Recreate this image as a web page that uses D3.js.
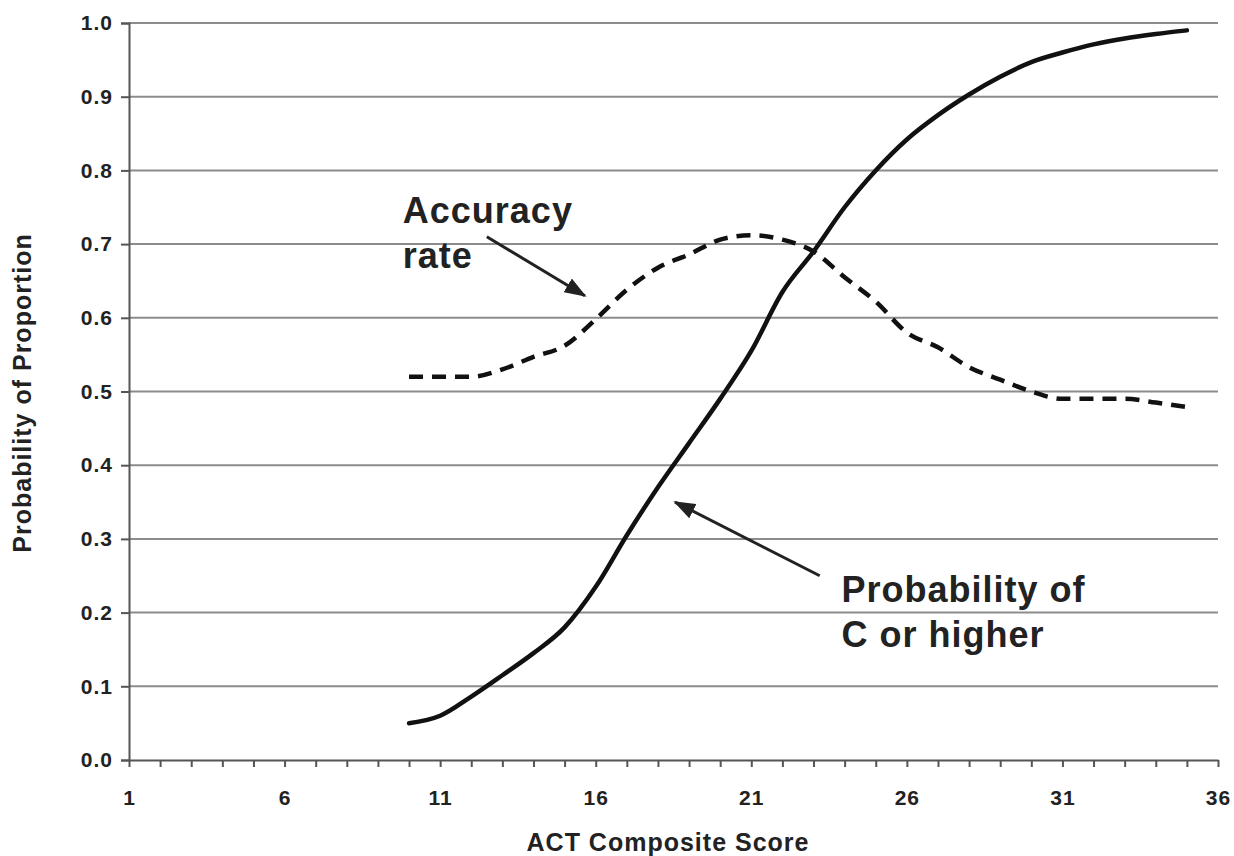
<!DOCTYPE html>
<html>
<head>
<meta charset="utf-8">
<script src="https://cdn.jsdelivr.net/npm/d3@7"></script>
<style>
  html, body { margin: 0; padding: 0; background: #fff; }
  svg { display: block; font-family: "Liberation Sans", Arial, sans-serif; }
</style>
</head>
<body>
<svg id="chart" width="1234" height="856"></svg>
<script>
// ---- data ----
const scores = [10, 11, 12, 13, 14, 15, 16, 17, 18, 19, 20, 21, 22, 23, 24, 25, 26, 27, 28, 29, 30, 31, 32, 33, 34, 35];
const probCOrHigher = [0.05, 0.06, 0.086, 0.115, 0.145, 0.18, 0.235, 0.305, 0.37, 0.43, 0.49, 0.555, 0.635, 0.69, 0.75, 0.80, 0.842, 0.875, 0.903, 0.927, 0.947, 0.96, 0.971, 0.979, 0.985, 0.99];
const accuracyRate = [0.52, 0.52, 0.52, 0.53, 0.547, 0.562, 0.598, 0.638, 0.668, 0.686, 0.706, 0.712, 0.706, 0.69, 0.655, 0.622, 0.58, 0.56, 0.533, 0.516, 0.5, 0.49, 0.49, 0.49, 0.485, 0.479];
const xTickValues = [1, 6, 11, 16, 21, 26, 31, 36];
const yTickValues = [0, 0.1, 0.2, 0.3, 0.4, 0.5, 0.6, 0.7, 0.8, 0.9, 1.0];
const xTitle = "ACT Composite Score";
const yTitle = "Probability of Proportion";
const annotations = [
  { lines: ["Accuracy", "rate"], x: 9.8, y: 0.7286, from: [12.5, 0.71], to: [15.65, 0.63] },
  { lines: ["Probability of", "C or higher"], x: 23.9, y: 0.2144, from: [23.2, 0.25], to: [18.55, 0.35] }
];

// ---- layout ----
const svg = d3.select("#chart");
const mLeft = 129, mRight = 1218, mTop = 23, mBottom = 760;
const x = d3.scaleLinear().domain([1, 36]).range([mLeft, mRight]);
const y = d3.scaleLinear().domain([0, 1]).range([mBottom, mTop]);
const textColor = "#222";

// gridlines
svg.append("g")
  .selectAll("line")
  .data(yTickValues.filter(d => d > 0))
  .join("line")
  .attr("x1", mLeft).attr("x2", mRight)
  .attr("y1", d => y(d)).attr("y2", d => y(d))
  .attr("stroke", "#8c8c8c").attr("stroke-width", 2);

// y axis
const yAxis = svg.append("g")
  .attr("transform", `translate(${mLeft},0)`)
  .call(d3.axisLeft(y).tickValues(yTickValues).tickFormat(d3.format(".1f")).tickSize(8).tickPadding(8));
yAxis.select(".domain").attr("stroke", "#555").attr("stroke-width", 2);
yAxis.selectAll(".tick line").attr("stroke", "#555").attr("stroke-width", 2);
yAxis.selectAll(".tick text")
  .attr("font-size", 21).attr("font-weight", "bold").attr("fill", textColor)
  .attr("letter-spacing", 1)
  .attr("font-family", "Liberation Sans, Arial, sans-serif");

// x axis (minor ticks every integer)
const xAxis = svg.append("g")
  .attr("transform", `translate(0,${mBottom})`)
  .call(d3.axisBottom(x).tickValues(d3.range(1, 37)).tickFormat(d => xTickValues.includes(d) ? d : "").tickSize(7).tickPadding(23).tickSizeOuter(0));
xAxis.select(".domain").attr("stroke", "#555").attr("stroke-width", 2);
xAxis.selectAll(".tick line").attr("stroke", "#555").attr("stroke-width", 2);
xAxis.selectAll(".tick text")
  .attr("font-size", 21).attr("font-weight", "bold").attr("fill", textColor)
  .attr("letter-spacing", 1)
  .attr("font-family", "Liberation Sans, Arial, sans-serif");

// axis titles
svg.append("text")
  .attr("x", 668).attr("y", 851)
  .attr("text-anchor", "middle")
  .attr("font-size", 25).attr("font-weight", "bold").attr("fill", textColor)
  .attr("letter-spacing", 1)
  .text(xTitle);
svg.append("text")
  .attr("transform", `translate(31,${(233 + 553) / 2}) rotate(-90)`)
  .attr("text-anchor", "middle")
  .attr("font-size", 25).attr("font-weight", "bold").attr("fill", textColor)
  .attr("letter-spacing", 1)
  .text(yTitle);

// lines
const line = d3.line().curve(d3.curveMonotoneX).x(d => x(d[0])).y(d => y(d[1]));
svg.append("path")
  .datum(scores.map((s, i) => [s, accuracyRate[i]]))
  .attr("d", line)
  .attr("fill", "none").attr("stroke", "#111").attr("stroke-width", 4.5)
  .attr("stroke-dasharray", "14 9").attr("stroke-linecap", "butt");
svg.append("path")
  .datum(scores.map((s, i) => [s, probCOrHigher[i]]))
  .attr("d", line)
  .attr("fill", "none").attr("stroke", "#111").attr("stroke-width", 4.5)
  .attr("stroke-linecap", "round");

// arrowhead marker
svg.append("defs").append("marker")
  .attr("id", "arrow")
  .attr("viewBox", "0 0 22 16")
  .attr("refX", 20).attr("refY", 8)
  .attr("markerWidth", 22).attr("markerHeight", 16)
  .attr("markerUnits", "userSpaceOnUse")
  .attr("orient", "auto")
  .append("path")
  .attr("d", "M0,0 L22,8 L0,16 Z")
  .attr("fill", "#222");

// annotations
annotations.forEach(a => {
  const t = svg.append("text")
    .attr("x", x(a.x)).attr("y", y(a.y))
    .attr("font-size", 36).attr("font-weight", "bold").attr("fill", textColor)
    .attr("letter-spacing", 1);
  a.lines.forEach((l, i) => {
    t.append("tspan").attr("x", x(a.x)).attr("dy", i === 0 ? 0 : 45).text(l);
  });
  svg.append("line")
    .attr("x1", x(a.from[0])).attr("y1", y(a.from[1]))
    .attr("x2", x(a.to[0])).attr("y2", y(a.to[1]))
    .attr("stroke", "#222").attr("stroke-width", 3)
    .attr("marker-end", "url(#arrow)");
});
</script>
</body>
</html>
